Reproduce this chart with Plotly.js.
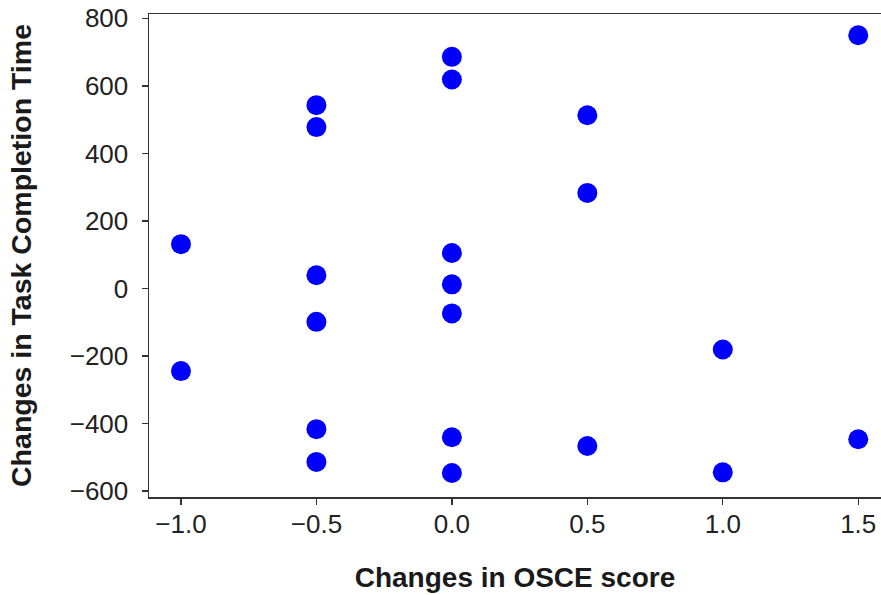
<!DOCTYPE html>
<html>
<head>
<meta charset="utf-8">
<script src="https://cdn.plot.ly/plotly-3.0.1.min.js"></script>
<style>html,body{margin:0;padding:0;background:#fff;}#chart{width:881px;height:595px;}</style>
</head>
<body>
<div id="chart"></div>
<script>
const osceChange = [-1.0, -1.0,
  -0.5, -0.5, -0.5, -0.5, -0.5, -0.5,
  0.0, 0.0, 0.0, 0.0, 0.0, 0.0, 0.0,
  0.5, 0.5, 0.5,
  1.0, 1.0,
  1.5, 1.5];
const timeChange = [131, -245,
  543, 478, 39, -99, -417, -514,
  686, 619, 105, 12, -74, -441, -547,
  513, 283, -467,
  -181, -545,
  750, -447];
const xTicks = [-1.0, -0.5, 0.0, 0.5, 1.0, 1.5];
const xTickText = ['\u22121.0', '\u22120.5', '0.0', '0.5', '1.0', '1.5'];
const yTicks = [-600, -400, -200, 0, 200, 400, 600, 800];
const yTickText = ['\u2212600', '\u2212400', '\u2212200', '0', '200', '400', '600', '800'];

const trace = {
  x: osceChange,
  y: timeChange,
  type: 'scatter',
  mode: 'markers',
  marker: {color: '#0000ff', size: 20},
  hoverinfo: 'x+y'
};

const layout = {
  width: 881,
  height: 595,
  margin: {l: 149, r: 0, t: 14, b: 98},
  paper_bgcolor: '#ffffff',
  plot_bgcolor: '#ffffff',
  showlegend: false,
  font: {family: 'Liberation Sans, Arial, sans-serif', color: '#262626'},
  xaxis: {
    range: [-1.118, 1.584],
    tickvals: xTicks,
    ticktext: xTickText,
    ticks: 'outside',
    ticklen: 6,
    tickwidth: 1.3,
    tickcolor: '#333',
    showline: true,
    linecolor: '#333',
    linewidth: 1.5,
    mirror: true,
    showgrid: false,
    zeroline: false,
    automargin: false,
    ticklabelstandoff: -3,
    tickfont: {size: 26, color: '#222'},
    title: {text: 'Changes in OSCE score', font: {size: 28, color: '#1a1a1a', weight: 'bold'}, standoff: 29}
  },
  yaxis: {
    range: [-618, 813],
    tickvals: yTicks,
    ticktext: yTickText,
    ticks: 'outside',
    ticklen: 6,
    tickwidth: 1.3,
    tickcolor: '#333',
    showline: true,
    linecolor: '#333',
    linewidth: 1.5,
    showgrid: false,
    zeroline: false,
    automargin: false,
    ticklabelstandoff: 8,
    tickfont: {size: 26, color: '#222'},
    title: {text: 'Changes in Task Completion Time', font: {size: 28.5, color: '#1a1a1a', weight: 'bold'}, standoff: 29}
  }
};

Plotly.newPlot('chart', [trace], layout, {displayModeBar: false, staticPlot: true});
</script>
</body>
</html>
